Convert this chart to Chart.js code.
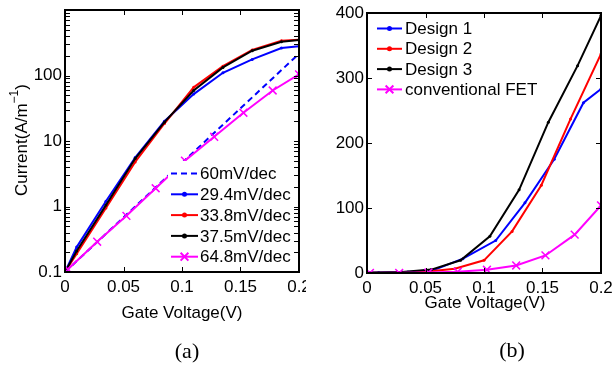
<!DOCTYPE html>
<html>
<head>
<meta charset="utf-8">
<script src="https://cdn.jsdelivr.net/npm/chart.js@4/dist/chart.umd.min.js"></script>
<style>
html, body { margin: 0; padding: 0; background: #fff; }
#wrap { position: relative; width: 613px; height: 369px; }
.pane { position: absolute; top: 0; height: 369px; }
</style>
</head>
<body>
<div id="wrap">
  <div class="pane" style="left:0;width:306px"><canvas id="chartA" width="306" height="369"></canvas></div>
  <div class="pane" style="left:306px;width:307px"><canvas id="chartB" width="307" height="369"></canvas></div>
</div>
<script>
// gate voltage (V) vs current (A/m)

// (a) log plot
var xDesignA = [0, 0.01, 0.035, 0.06, 0.085, 0.11, 0.135, 0.16, 0.185, 0.2];
var design1A = [0.1, 0.24, 1.2, 5.6, 20, 52, 110, 176, 262, 280];
var design2A = [0.1, 0.19, 0.95, 4.8, 18.5, 66, 139, 246, 338, 352];
var design3A = [0.1, 0.21, 1.05, 5.4, 19.4, 59, 133, 239, 328, 349];
var xIdeal = [0, 0.2];
var ideal60 = [0.1, 215];
var xConv = [0.0025, 0.0275, 0.0525, 0.0775, 0.1025, 0.1275, 0.1525, 0.1775, 0.2];
var convFET = [0.11, 0.29, 0.72, 1.9, 5.0, 11.6, 27, 59, 104];

// (b) linear plot
var xDesign1B = [0, 0.01, 0.035, 0.057, 0.082, 0.11, 0.135, 0.16, 0.185, 0.2];
var design1B = [0.5, 0.7, 1.5, 4.5, 22, 50, 108, 175, 262, 283];
var xDesign2B = [0, 0.025, 0.05, 0.075, 0.1, 0.124, 0.149, 0.174, 0.2];
var design2B = [0.2, 0.5, 2, 6.7, 19.5, 64, 135, 237, 337];
var xDesign3B = [0, 0.03, 0.055, 0.08, 0.105, 0.13, 0.155, 0.18, 0.2];
var design3B = [0.3, 1.5, 5.2, 19.5, 56.5, 128, 232, 319, 396];

var labelsA = ['60mV/dec', '29.4mV/dec', '33.8mV/dec', '37.5mV/dec', '64.8mV/dec'];
var labelsB = ['Design 1', 'Design 2', 'Design 3', 'conventional FET'];

var xTicks = [0, 0.05, 0.1, 0.15, 0.2];
var xTickLabels = ['0', '0.05', '0.1', '0.15', '0.2'];
var yTicksA = [0.1, 1, 10, 100];
var yTickLabelsA = ['0.1', '1', '10', '100'];
var yTicksB = [0, 100, 200, 300, 400];

var FONT = "'Liberation Sans', Arial, sans-serif";

function pts(xs, ys) {
  return xs.map(function (x, i) { return { x: x, y: ys[i] }; });
}

function line(label, xs, ys, color, extra) {
  var d = {
    label: label,
    data: pts(xs, ys),
    borderColor: color,
    backgroundColor: color,
    borderWidth: 2,
    pointRadius: 1.5,
    pointStyle: 'circle',
    pointBorderWidth: 0,
    tension: 0
  };
  for (var k in extra) d[k] = extra[k];
  return d;
}

var crossOpts = { pointStyle: 'crossRot', pointRadius: 5.5, pointBorderWidth: 1.5 };

// minor ticks for the log axis
var minorA = [];
[0.1, 1, 10, 100].forEach(function (d) {
  for (var m = 2; m <= 9; m++) minorA.push(d * m);
});

var framePlugin = {
  id: 'frame',
  afterDatasetsDraw: function (chart, args, o) {
    var ctx = chart.ctx, a = chart.chartArea;
    var xs = chart.scales.x, ys = chart.scales.y;
    ctx.save();

    // legend
    if (o.legendBox) {
      ctx.fillStyle = '#fff';
      ctx.fillRect(o.legendBox[0], o.legendBox[1], o.legendBox[2], o.legendBox[3]);
    }
    chart.data.datasets.forEach(function (ds, i) {
      var y = o.legendY + i * o.legendStep;
      ctx.strokeStyle = ds.borderColor;
      ctx.lineWidth = 2;
      ctx.setLineDash(ds.borderDash || []);
      ctx.beginPath();
      ctx.moveTo(o.legendX0, y);
      ctx.lineTo(o.legendX1, y);
      ctx.stroke();
      ctx.setLineDash([]);
      if (ds.pointRadius > 0) {
        ctx.fillStyle = ds.borderColor;
        Chart.helpers.drawPoint(ctx, {
          pointStyle: ds.pointStyle, radius: ds.pointRadius,
          borderWidth: ds.pointBorderWidth || 1, rotation: 0
        }, (o.legendX0 + o.legendX1) / 2, y);
      }
      ctx.fillStyle = '#000';
      ctx.font = '17px ' + FONT;
      ctx.textAlign = 'left';
      ctx.textBaseline = 'middle';
      ctx.fillText(ds.label, o.legendTx, y + 1);
    });

    // box
    ctx.strokeStyle = '#000';
    ctx.lineWidth = 2;
    ctx.strokeRect(a.left, a.top, a.right - a.left, a.bottom - a.top);

    // inside ticks
    var L = 5;
    ctx.lineWidth = 1;
    ctx.beginPath();
    xs.ticks.forEach(function (t) {
      var px = Math.round(xs.getPixelForValue(t.value)) + 0.5;
      ctx.moveTo(px, a.bottom); ctx.lineTo(px, a.bottom - L);
      ctx.moveTo(px, a.top); ctx.lineTo(px, a.top + L);
    });
    var yv = ys.ticks.map(function (t) { return t.value; }).concat(o.minor || []);
    yv.forEach(function (v) {
      var py = Math.round(ys.getPixelForValue(v)) + 0.5;
      ctx.moveTo(a.left, py); ctx.lineTo(a.left + L, py);
      ctx.moveTo(a.right, py); ctx.lineTo(a.right - L, py);
    });
    ctx.stroke();

    // axis titles
    ctx.fillStyle = '#000';
    ctx.font = '17px ' + FONT;
    ctx.textAlign = 'center';
    ctx.textBaseline = 'middle';
    ctx.fillText('Gate Voltage(V)', o.xTitle[0], o.xTitle[1]);

    if (o.yTitle) {
      ctx.save();
      ctx.translate(o.yTitle[0], o.yTitle[1]);
      ctx.rotate(-Math.PI / 2);
      var p1 = 'Current(A/m', p2 = '\u22121', p3 = ')';
      ctx.font = '17px ' + FONT;
      var w1 = ctx.measureText(p1).width, w3 = ctx.measureText(p3).width;
      ctx.font = '12px ' + FONT;
      var w2 = ctx.measureText(p2).width;
      var x = -(w1 + w2 + w3) / 2;
      ctx.textAlign = 'left';
      ctx.font = '17px ' + FONT;
      ctx.fillText(p1, x, 0);
      ctx.font = '12px ' + FONT;
      ctx.fillText(p2, x + w1, -7);
      ctx.font = '17px ' + FONT;
      ctx.fillText(p3, x + w1 + w2, 0);
      ctx.restore();
    }

    // panel label
    ctx.font = "22px 'Liberation Serif', 'Times New Roman', serif";
    ctx.textAlign = 'center';
    ctx.fillText(o.panel, o.panelPos[0], o.panelPos[1]);
    ctx.restore();
  }
};

function xScale(h) {
  return {
    type: 'linear', min: 0, max: 0.2,
    grid: { display: false, drawTicks: false },
    border: { display: false },
    afterBuildTicks: function (s) { s.ticks = xTicks.map(function (v) { return { value: v }; }); },
    afterFit: function (s) { s.height = h; s.paddingLeft = 0; s.paddingRight = 0; },
    ticks: {
      padding: 5, color: '#000', font: { family: FONT, size: 17 }, maxRotation: 0,
      callback: function (v, i) { return xTickLabels[i]; }
    }
  };
}

function withOrder(list) {
  list.forEach(function (d, i) { d.order = list.length - i; });
  return list;
}

new Chart(document.getElementById('chartA'), {
  type: 'line',
  data: {
    datasets: withOrder([
      line(labelsA[0], xIdeal, ideal60, '#0000ff', { borderDash: [6, 4], pointRadius: 0 }),
      line(labelsA[1], xDesignA, design1A, '#0000ff'),
      line(labelsA[2], xDesignA, design2A, '#ff0000'),
      line(labelsA[3], xDesignA, design3A, '#000000'),
      line(labelsA[4], xConv, convFET, '#ff00ff', crossOpts)
    ])
  },
  options: {
    responsive: false, animation: false,
    layout: { padding: { top: 10, right: 6, left: 0, bottom: 0 } },
    scales: {
      x: xScale(97),
      y: {
        type: 'logarithmic', min: 0.1, max: 1000,
        grid: { display: false, drawTicks: false },
        border: { display: false },
        afterBuildTicks: function (s) { s.ticks = yTicksA.map(function (v) { return { value: v }; }); },
        afterFit: function (s) { s.width = 65; s.paddingTop = 0; s.paddingBottom = 0; },
        ticks: {
          padding: 3, color: '#000', font: { family: FONT, size: 17 },
          callback: function (v, i) { return yTickLabelsA[i]; }
        }
      }
    },
    plugins: {
      legend: { display: false },
      tooltip: { enabled: false },
      frame: {
        legendBox: [168, 161, 132, 110],
        legendX0: 171, legendX1: 198, legendTx: 200, legendY: 173.5, legendStep: 20.8,
        minor: minorA,
        xTitle: [182, 313], yTitle: [22, 140],
        panel: '(a)', panelPos: [187, 352]
      }
    }
  },
  plugins: [framePlugin]
});

new Chart(document.getElementById('chartB'), {
  type: 'line',
  data: {
    datasets: withOrder([
      line(labelsB[0], xDesign1B, design1B, '#0000ff'),
      line(labelsB[1], xDesign2B, design2B, '#ff0000'),
      line(labelsB[2], xDesign3B, design3B, '#000000'),
      line(labelsB[3], xConv, convFET, '#ff00ff', crossOpts)
    ])
  },
  options: {
    responsive: false, animation: false,
    layout: { padding: { top: 13, right: 12, left: 0, bottom: 0 } },
    scales: {
      x: xScale(96),
      y: {
        type: 'linear', min: 0, max: 400,
        grid: { display: false, drawTicks: false },
        border: { display: false },
        afterBuildTicks: function (s) { s.ticks = yTicksB.map(function (v) { return { value: v }; }); },
        afterFit: function (s) { s.width = 61; s.paddingTop = 0; s.paddingBottom = 0; },
        ticks: {
          padding: 3, color: '#000', font: { family: FONT, size: 17 },
          callback: function (v) { return String(v); }
        }
      }
    },
    plugins: {
      legend: { display: false },
      tooltip: { enabled: false },
      frame: {
        legendX0: 71, legendX1: 96, legendTx: 99, legendY: 28.5, legendStep: 20.3,
        xTitle: [179, 303],
        panel: '(b)', panelPos: [206, 351]
      }
    }
  },
  plugins: [framePlugin]
});
</script>
</body>
</html>
